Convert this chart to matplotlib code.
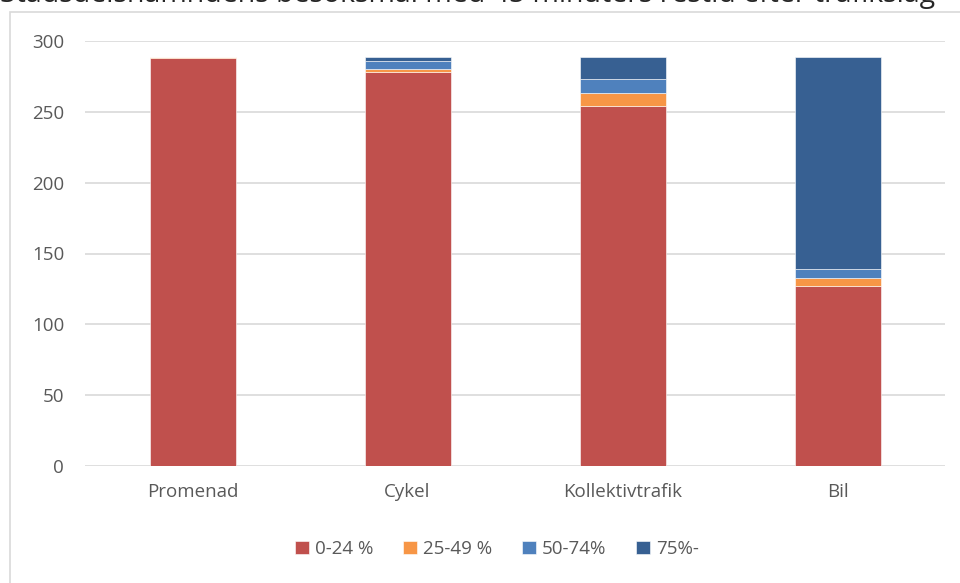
import matplotlib
matplotlib.use("Agg")
import matplotlib.pyplot as plt
from matplotlib.patches import Rectangle
import numpy as np

categories = ["Promenad", "Cykel", "Kollektivtrafik", "Bil"]
series_names = ["0-24 %", "25-49 %", "50-74%", "75%-"]
v_0_24 = [288, 278, 254, 127]
v_25_49 = [1, 2, 9, 6]
v_50_74 = [0, 6, 10, 6]
v_75 = [0, 3, 16, 150]
colors = ["#C0504D", "#F79646", "#4F81BD", "#376092"]
title = "Stadsdelsnämndens besöksmål med 45 minuters restid efter trafikslag"

plt.rcParams['font.family'] = ['Open Sans', 'DejaVu Sans']

W, H = 960, 583
fig = plt.figure(figsize=(W/100, H/100), dpi=100)

# outer chart border
fig.patches.append(Rectangle((10/W, -0.05), 1.2, 1 - 12/H + 0.05, transform=fig.transFigure,
                             fill=False, edgecolor="#D9D9D9", linewidth=1.2))

fig.text(0/W, 1 - 2/H, title, fontsize=20.5, color="#262626", va="baseline", ha="left")

ax = fig.add_axes([85/W, (H-466)/H, (945-85)/W, (466-41)/H])
x = np.arange(len(categories))
bottom = np.zeros(len(categories))
for name, vals, c in zip(series_names, [v_0_24, v_25_49, v_50_74, v_75], colors):
    ax.bar(x, vals, width=0.4, bottom=bottom, color=c, label=name,
           edgecolor="white", linewidth=0.4, zorder=3)
    bottom += np.array(vals)

ax.set_xlim(-0.5, 3.5)
ax.set_ylim(0, 300)
ax.set_yticks(range(0, 301, 50))
ax.set_xticks(x)
ax.set_xticklabels(categories)
ax.grid(axis="y", color="#D9D9D9", linewidth=1.2, zorder=0)
for s in ax.spines.values():
    s.set_visible(False)
ax.tick_params(length=0, labelsize=13.5, colors="#595959")
ax.tick_params(axis="y", pad=15)
ax.tick_params(axis="x", pad=12)

handles, labels = ax.get_legend_handles_labels()
fig.legend(handles, labels, loc="center", bbox_to_anchor=(497/W, 1 - 549/H), ncol=4,
           frameon=False, fontsize=13.5, labelcolor="#595959", handlelength=0.75,
           handleheight=0.75, handletextpad=0.3, columnspacing=1.6)

fig.savefig("out.png", dpi=100)
